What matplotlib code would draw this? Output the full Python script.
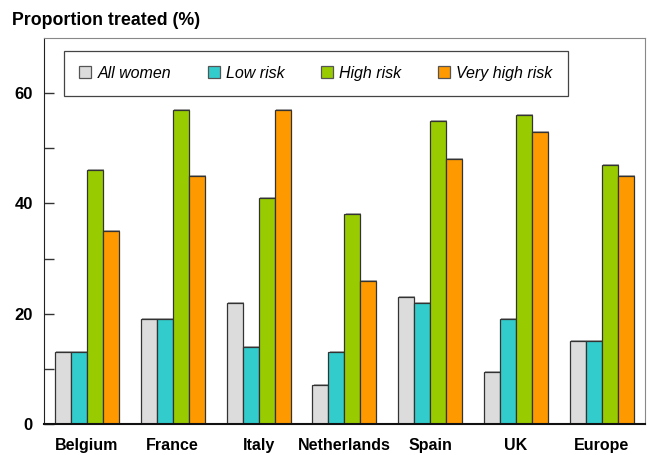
import matplotlib
matplotlib.use("Agg")
import matplotlib.pyplot as plt
import matplotlib.patheffects as pe
import numpy as np

countries = ["Belgium", "France", "Italy", "Netherlands", "Spain", "UK", "Europe"]
series_names = ["All women", "Low risk", "High risk", "Very high risk"]
all_women = [13, 19, 22, 7, 23, 9.5, 15]
low_risk = [13, 19, 14, 13, 22, 19, 15]
high_risk = [46, 57, 41, 38, 55, 56, 47]
very_high_risk = [35, 45, 57, 26, 48, 53, 45]
colors = ["#DCDCDC", "#33CCCC", "#99CC00", "#FF9900"]
yticks = [0, 20, 40, 60]

plt.rcParams['font.family'] = ['Liberation Sans', 'DejaVu Sans']

fig = plt.figure(figsize=(6.5, 4.55), dpi=100)
ax = fig.add_axes([0.0677, 0.068, 0.9243, 0.8485])

x = np.arange(len(countries))
w = 0.186
data = [all_women, low_risk, high_risk, very_high_risk]
for i, (vals, c, name) in enumerate(zip(data, colors, series_names)):
    bars = ax.bar(x + (i - 1.5) * w, vals, width=w, color=c, edgecolor="#333333",
                  linewidth=0.9, label=name, zorder=2)
    for b in bars:
        b.set_path_effects([pe.SimplePatchShadow(offset=(0.8, 0.8), shadow_rgbFace="#999999", alpha=0.8),
                            pe.Normal()])

ax.set_xlim(-0.5, len(countries) - 0.5)
ax.set_ylim(0, 70)
ax.set_yticks(yticks)
ax.set_yticklabels([str(t) for t in yticks], fontsize=12, fontweight="bold")
ax.set_yticks([10, 30, 50], minor=True)
ax.tick_params(axis="y", which="both", direction="in", length=7, width=1, color="#333333", pad=8)
ax.set_xticks(x)
ax.set_xticklabels(countries, fontsize=11.5, fontweight="bold")
ax.tick_params(axis="x", length=0, pad=10)

ax.spines["left"].set_color("#222222")
ax.spines["bottom"].set_color("#111111")
ax.spines["bottom"].set_linewidth(1.5)
ax.spines["top"].set_color("#888888")
ax.spines["right"].set_color("#888888")
for s in ax.spines.values():
    s.set_zorder(4)

fig.text(0.018, 0.955, "Proportion treated (%)", fontsize=12.8, fontweight="bold", va="center", ha="left")

leg = ax.legend(ncol=4, loc="lower left", bbox_to_anchor=(0.033, 0.85, 0.839, 0.111),
                mode="expand", fancybox=False, edgecolor="#444444", framealpha=1,
                prop={"style": "italic", "size": 11.5}, handlelength=0.75, handleheight=0.75,
                handletextpad=0.4, borderaxespad=0, borderpad=0.95)
leg.get_frame().set_linewidth(0.9)
leg.set_zorder(5)
for h in leg.legend_handles:
    h.set_path_effects([])
    h.set_edgecolor("#555555")

fig.savefig("out.png", dpi=100)
